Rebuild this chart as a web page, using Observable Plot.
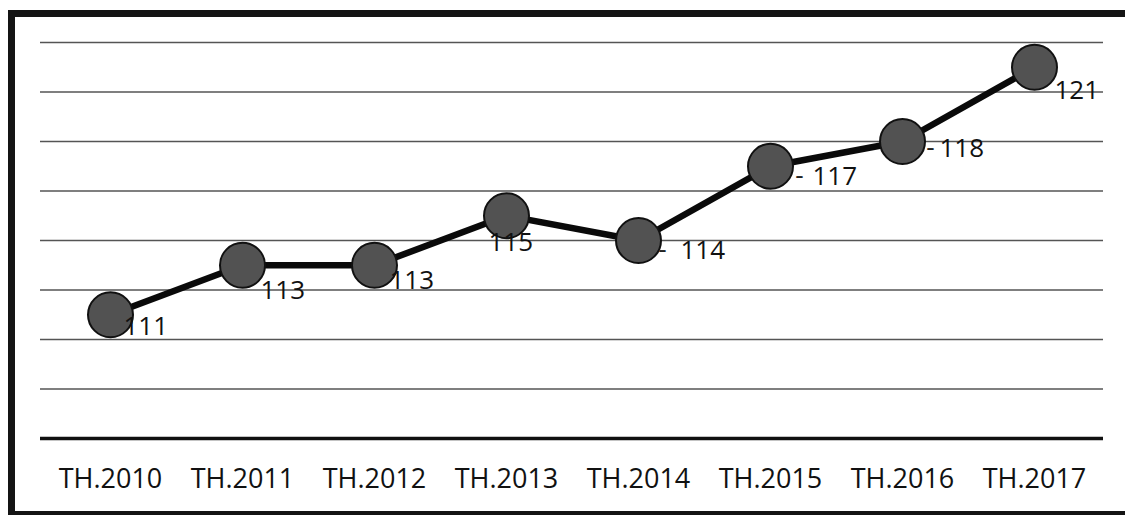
<!DOCTYPE html>
<html>
<head>
<meta charset="utf-8">
<script src="https://cdn.jsdelivr.net/npm/d3@7"></script>
<script src="https://cdn.jsdelivr.net/npm/@observablehq/plot@0.6"></script>
<style>
  html, body { margin: 0; padding: 0; background: #fff; }
  body { position: relative; width: 1125px; height: 515px; overflow: hidden; }
  .bar { position: absolute; background: #141414; }
  #chart { position: absolute; left: 15px; top: 17px; width: 1102px; height: 494px; overflow: hidden; }
  #chart svg { display: block; }
  #cover { position: absolute; left: 1117px; top: 17px; width: 8px; height: 494px; background: #fff; z-index: 5; }
</style>
</head>
<body>
<div class="bar" style="left:8px; top:10px; width:1117px; height:7px;"></div>
<div class="bar" style="left:8px; top:10px; width:7px; height:505px;"></div>
<div class="bar" style="left:8px; top:511px; width:1117px; height:4px;"></div>
<div id="chart"></div>
<div id="cover"></div>
<script>
// ---- data ----
const years = ["TH.2010", "TH.2011", "TH.2012", "TH.2013", "TH.2014", "TH.2015", "TH.2016", "TH.2017"];
const values = [111, 113, 113, 115, 114, 117, 118, 121];
const gridTicks = [108, 110, 112, 114, 116, 118, 120, 122];
const baseValue = 106;

// ---- layout (label placement, like the original's data labels) ----
const labelOffsets = [[13, 12], [18, 25], [15, 15], [-18, 27], [42, 10], [42, 10], [37, 7], [20, 23]];
const leaderIdx = [4, 5, 6];
const leaderOffsets = [[24, 9], [29, 9], [28, 6]];

const data = years.map((y, i) => ({year: y, value: values[i]}));

const labelMarks = data.map((d, i) =>
  Plot.text([d], {
    x: "year", y: "value", text: d => String(d.value),
    dx: labelOffsets[i][0], dy: labelOffsets[i][1],
    textAnchor: "start", fontSize: 26, fill: "#111"
  })
);
const leaderMarks = leaderIdx.map((i, k) =>
  Plot.text([data[i]], {
    x: "year", y: "value", text: () => "-",
    dx: leaderOffsets[k][0], dy: leaderOffsets[k][1],
    textAnchor: "middle", fontSize: 26, fill: "#222"
  })
);

const chart = Plot.plot({
  width: 1102,
  height: 494,
  marginLeft: 25,
  marginRight: 14,
  marginTop: 25,
  marginBottom: 73,
  style: { fontFamily: "'Open Sans', sans-serif", background: "#fff", color: "#111" },
  x: { type: "point", domain: years, padding: 0.5, label: null },
  y: { domain: [baseValue, 122], axis: null },
  marks: [
    Plot.ruleY(gridTicks, { stroke: "#555", strokeWidth: 1.6 }),
    Plot.ruleY([baseValue], { stroke: "#111", strokeWidth: 3.5 }),
    Plot.axisX({ tickSize: 0, tickPadding: 30, fontSize: 27, fill: "#111", label: null }),
    Plot.line(data, { x: "year", y: "value", stroke: "#0a0a0a", strokeWidth: 6.5 }),
    Plot.dot(data, { x: "year", y: "value", r: 22.5, fill: "#525252", stroke: "#111", strokeWidth: 2 }),
    ...leaderMarks,
    ...labelMarks
  ]
});
document.getElementById("chart").appendChild(chart);
</script>
</body>
</html>
